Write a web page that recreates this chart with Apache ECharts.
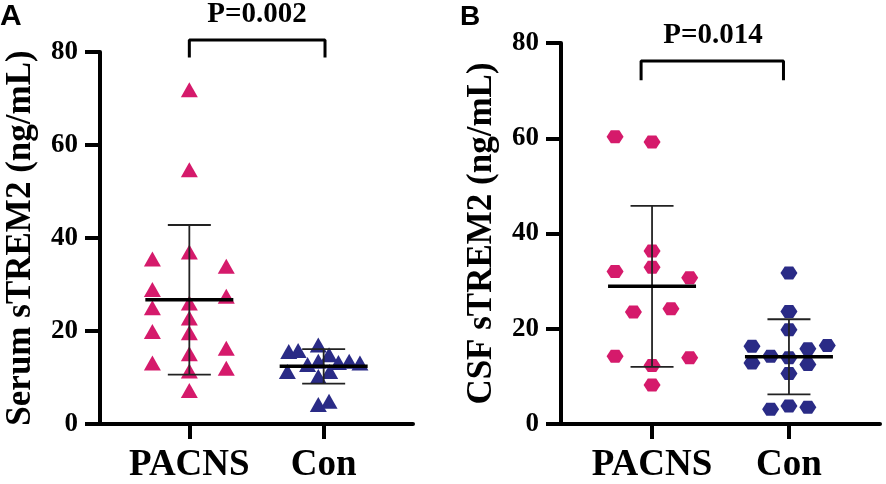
<!DOCTYPE html>
<html>
<head>
<meta charset="utf-8">
<script src="https://cdn.jsdelivr.net/npm/echarts@6/dist/echarts.min.js"></script>
<style>
  html, body { margin: 0; padding: 0; background: #fff; }
  #main { width: 886px; height: 484px; }
</style>
</head>
<body>
<div id="main"></div>
<script>
var groups = ['PACNS', 'Con'];
var yTicks = [0, 20, 40, 60, 80];

// panel A: serum sTREM2 (ng/mL), value + horizontal jitter
var serumPacns = [71.9, 54.7, 37.0, 35.5, 33.9, 28.9, 27.5, 26.0, 25.0, 22.8, 19.9, 19.6, 16.3, 15.1, 13.1, 12.0, 11.4, 7.2];
var serumPacnsJit = [0, 0, 0, -0.275, 0.275, -0.275, 0.275, 0, -0.275, 0, -0.275, 0, 0.275, 0, -0.275, 0.275, 0, 0];
var serumCon = [15.6, 15.8, 17.0, 14.9, 13.5, 12.8, 13.2, 13.5, 13.1, 11.3, 11.3, 10.2, 4.2, 4.9];
var serumConJit = [-0.26, -0.19, -0.04, 0.04, -0.04, -0.12, 0.11, 0.19, 0.27, -0.27, 0.045, -0.04, -0.04, 0.04];
var serumMean = [26.7, 12.4];
var serumSd = [16.1, 3.7];

// panel B: CSF sTREM2 (ng/mL)
var csfPacns = [60.3, 59.2, 36.3, 32.0, 32.9, 30.7, 23.5, 24.2, 14.2, 13.9, 12.3, 8.2];
var csfPacnsJit = [-0.27, 0, 0, -0.27, 0, 0.275, -0.136, 0.138, -0.27, 0.275, 0, 0];
var csfCon = [31.7, 23.6, 19.8, 16.3, 16.5, 15.8, 14.2, 13.9, 12.8, 12.5, 10.6, 3.1, 3.8, 3.5];
var csfConJit = [0, 0, 0, -0.27, 0.28, 0.138, -0.134, 0, -0.27, 0.138, 0, -0.134, 0, 0.138];
var csfMean = [28.9, 14.1];
var csfSd = [16.9, 7.9];

// significance brackets [x0, x1], [yEnd, yTop]
var bracketAx = [1, 2.01], bracketAy = [78.8, 82.6];
var bracketBx = [0.92, 1.96], bracketBy = [72.2, 76.2];

var pink = '#d51a6b';
var navy = '#2a2b86';
var serif = 'Liberation Serif';
var hexagon = 'path://M0,5 L3,0 L9,0 L12,5 L9,10 L3,10 Z';

function pts(vals, jit, pos) {
  return vals.map(function (v, i) { return [pos + jit[i], v]; });
}

function errData(mean, sd) {
  return mean.map(function (m, i) { return [i + 1, m, sd[i]]; });
}

function errRender(params, api) {
  var x = api.value(0), m = api.value(1), s = api.value(2);
  var c = api.coord([x, m]);
  var t = api.coord([x, m + s]);
  var b = api.coord([x, m - s]);
  var thin = { stroke: '#222', lineWidth: 1.8 };
  return {
    type: 'group',
    children: [
      { type: 'line', shape: { x1: t[0], y1: t[1], x2: b[0], y2: b[1] }, style: thin },
      { type: 'line', shape: { x1: t[0] - 21.5, y1: t[1], x2: t[0] + 21.5, y2: t[1] }, style: thin },
      { type: 'line', shape: { x1: b[0] - 21.5, y1: b[1], x2: b[0] + 21.5, y2: b[1] }, style: thin },
      { type: 'line', shape: { x1: c[0] - 44, y1: c[1], x2: c[0] + 44, y2: c[1] }, style: { stroke: '#000', lineWidth: 3.5 } }
    ]
  };
}

function bracket(xs, ys) {
  return [[xs[0], ys[0]], [xs[0], ys[1]], [xs[1], ys[1]], [xs[1], ys[0]]];
}

function xAxisOpt(idx) {
  return {
    type: 'value', gridIndex: idx, min: 0.335, max: 2.665,
    splitLine: { show: false },
    axisLine: { lineStyle: { color: '#000', width: 4 } },
    axisTick: { customValues: [1, 2], length: 15, lineStyle: { color: '#000', width: 4 } },
    axisLabel: {
      customValues: [1, 2], margin: 23,
      formatter: function (v) { return groups[Math.round(v) - 1]; },
      color: '#000', fontFamily: serif, fontWeight: 'bold', fontSize: 37
    }
  };
}

function yAxisOpt(idx, name) {
  return {
    type: 'value', gridIndex: idx, min: 0, max: 80, interval: 20,
    splitLine: { show: false },
    axisLine: { show: true, lineStyle: { color: '#000', width: 4 } },
    axisTick: { show: true, length: 15, lineStyle: { color: '#000', width: 4 } },
    axisLabel: {
      margin: 22, color: '#000', fontFamily: serif, fontWeight: 'bold', fontSize: 27,
      formatter: function (v) { return yTicks.indexOf(v) >= 0 ? String(v) : ''; }
    },
    name: name, nameLocation: 'middle', nameGap: 62,
    nameTextStyle: { color: '#000', fontFamily: serif, fontWeight: 'bold', fontSize: 35 }
  };
}

var myChart = echarts.init(document.getElementById('main'));
var option = {
  backgroundColor: '#fff',
  animation: false,
  grid: [
    { left: 100, top: 52, width: 313, height: 372 },
    { left: 561, top: 43, width: 319, height: 383 }
  ],
  xAxis: [xAxisOpt(0), xAxisOpt(1)],
  yAxis: [yAxisOpt(0, 'Serum sTREM2 (ng/mL)'), yAxisOpt(1, 'CSF sTREM2 (ng/mL)')],
  graphic: [
    { type: 'text', left: 0, top: 2, style: { text: 'A', fontFamily: 'Liberation Sans', fontWeight: 'bold', fontSize: 30, fill: '#000' } },
    { type: 'text', left: 460, top: 3, style: { text: 'B', fontFamily: 'Liberation Sans', fontWeight: 'bold', fontSize: 28, fill: '#000' } },
    { type: 'text', x: 257, y: 15, style: { text: 'P=0.002', align: 'center', verticalAlign: 'middle', fontFamily: serif, fontWeight: 'bold', fontSize: 29, fill: '#000' } },
    { type: 'text', x: 713, y: 36, style: { text: 'P=0.014', align: 'center', verticalAlign: 'middle', fontFamily: serif, fontWeight: 'bold', fontSize: 29, fill: '#000' } }
  ],
  series: [
    { type: 'scatter', xAxisIndex: 0, yAxisIndex: 0, symbol: 'triangle', symbolSize: [17, 15],
      itemStyle: { color: pink, opacity: 1 }, data: pts(serumPacns, serumPacnsJit, 1) },
    { type: 'scatter', xAxisIndex: 0, yAxisIndex: 0, symbol: 'triangle', symbolSize: [17, 15],
      itemStyle: { color: navy, opacity: 1 }, data: pts(serumCon, serumConJit, 2) },
    { type: 'scatter', xAxisIndex: 1, yAxisIndex: 1, symbol: hexagon, symbolSize: [17, 13],
      itemStyle: { color: pink, opacity: 1 }, data: pts(csfPacns, csfPacnsJit, 1) },
    { type: 'scatter', xAxisIndex: 1, yAxisIndex: 1, symbol: hexagon, symbolSize: [17, 13],
      itemStyle: { color: navy, opacity: 1 }, data: pts(csfCon, csfConJit, 2) },
    { type: 'custom', xAxisIndex: 0, yAxisIndex: 0, z: 5, renderItem: errRender, data: errData(serumMean, serumSd) },
    { type: 'custom', xAxisIndex: 1, yAxisIndex: 1, z: 5, renderItem: errRender, data: errData(csfMean, csfSd) },
    { type: 'line', xAxisIndex: 0, yAxisIndex: 0, clip: false, symbol: 'none',
      lineStyle: { color: '#000', width: 3 }, data: bracket(bracketAx, bracketAy) },
    { type: 'line', xAxisIndex: 1, yAxisIndex: 1, clip: false, symbol: 'none',
      lineStyle: { color: '#000', width: 3 }, data: bracket(bracketBx, bracketBy) }
  ]
};
myChart.setOption(option);

window.addEventListener('resize', function () {
  myChart.resize();
});
</script>
</body>
</html>
